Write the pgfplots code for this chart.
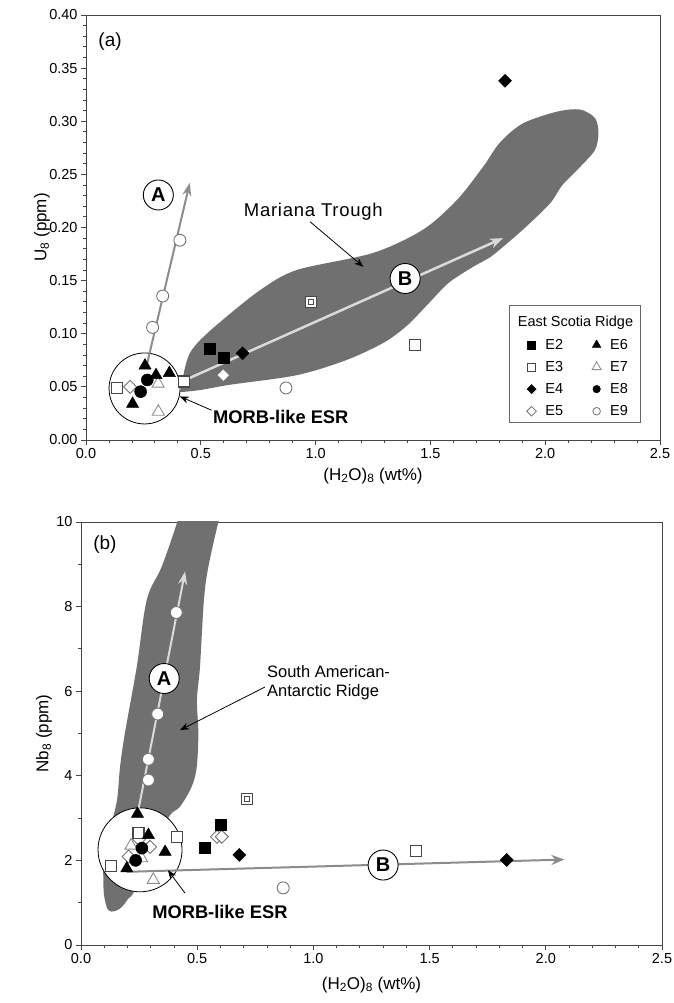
\documentclass[border=0pt]{standalone}
\usepackage{fontspec}
\setmainfont{Liberation Sans}
\usepackage{pgfplots}
\pgfplotsset{compat=1.18}
\usetikzlibrary{arrows.meta}
\definecolor{blob}{RGB}{112,112,112}
\definecolor{axc}{RGB}{70,70,70}
\definecolor{lightln}{RGB}{218,218,218}
\definecolor{midln}{RGB}{140,140,140}
\newcommand{\fs}[1]{\fontsize{#1}{1.2\dimexpr#1\relax}\selectfont}

\tikzset{
  lbl/.style={circle, draw=black, fill=white, line width=0.9bp, minimum size=30bp, inner sep=0pt, font=\bfseries\fs{20bp}},
  ann/.style={-{Stealth[length=9bp,width=7bp]}, line width=0.8bp, black},
}
\pgfplotsset{
  myax/.style={
    scale only axis, anchor=south west,
    axis line style={draw=axc, line width=0.9bp},
    every tick/.style={draw=axc, line width=0.8bp},
    tick align=outside, tick pos=left,
    major tick length=5bp, minor tick length=3bp,
    ticklabel style={font=\fs{14.5bp}},
    /pgf/number format/assume math mode=true,
    xmin=0, xmax=2.5, xtick={0,0.5,1,1.5,2,2.5}, minor x tick num=4,
    xticklabel style={/pgf/number format/.cd, fixed, fixed zerofill, precision=1},
    label style={font=\fs{17bp}},
    xlabel={(H\textsubscript{2}O)\textsubscript{8} (wt\%)},
    legend image code/.code={\draw[#1] plot coordinates {(5bp,0bp)};},
  },
  E2/.style={mark=square*, mark options={draw=black, fill=black, line width=0.5bp}, mark size=5.5bp},
  E3/.style={mark=square*, mark options={draw=black!72, fill=white, line width=1.2bp}, mark size=5.5bp},
  E4/.style={mark=square*, mark options={draw=black, fill=black, rotate=45, line width=0.5bp}, mark size=4.6bp},
  E5/.style={mark=square*, mark options={draw=black!55, fill=white, rotate=45, line width=0.9bp}, mark size=4.6bp},
  E6/.style={mark=triangle*, mark options={draw=black, fill=black, line width=0.5bp}, mark size=7bp},
  E7/.style={mark=triangle*, mark options={draw=black!45, fill=white, line width=0.9bp}, mark size=7bp},
  E8/.style={mark=*, mark options={draw=black, fill=black, line width=0.5bp}, mark size=6bp},
  E9/.style={mark=*, mark options={draw=black!55, fill=white, line width=0.9bp}, mark size=6bp},
}

\begin{document}
\begin{tikzpicture}
\path[use as bounding box] (0,0) rectangle (674bp,1003bp);

% ---------------- (a) ----------------
\begin{axis}[myax, at={(86bp,563bp)}, width=574bp, height=425bp,
  ymin=0, ymax=0.4, ytick={0,0.05,0.1,0.15,0.2,0.25,0.3,0.35,0.4}, minor y tick num=4,
  yticklabel style={/pgf/number format/.cd, fixed, fixed zerofill, precision=2},
  ylabel={U\textsubscript{8} (ppm)},
  xlabel style={at={(axis description cs:0.5,0)}, anchor=center, yshift=-36bp},
  ylabel style={at={(axis description cs:-0.0767,0.5)}, anchor=center},
  legend columns=2,
  legend style={at={(axis cs:1.919,0.097)}, anchor=north west, draw=none, fill=none,
    inner sep=0pt, font=\fs{14.5bp}, row sep=6.5bp,
    /tikz/every odd column/.append style={column sep=7bp},
    /tikz/every even column/.append style={column sep=27bp}},
  legend cell align=left,
]
% Mariana Trough field
\addplot[fill=blob, draw=none, smooth, tension=0.5, forget plot] coordinates {
 (0.41,0.045) (0.431,0.068) (0.453,0.082) (0.497,0.094) (0.584,0.111) (0.758,0.141)
 (0.918,0.160) (1.25,0.176) (1.468,0.198) (1.616,0.226) (1.729,0.257) (1.803,0.280)
 (1.903,0.298) (2.051,0.309) (2.152,0.311) (2.217,0.303) (2.232,0.289) (2.217,0.273)
 (2.152,0.257) (2.075,0.240) (2.03,0.225) (1.977,0.213) (1.903,0.198) (1.834,0.185)
 (1.76,0.172) (1.686,0.163) (1.58,0.148) (1.49,0.128) (1.40,0.108) (1.30,0.092)
 (1.135,0.0753) (0.918,0.061) (0.627,0.052) (0.497,0.047) (0.41,0.045)};
% MORB-like circle
\draw[fill=white, line width=0.8bp] (axis cs:0.255,0.0485) circle[radius=35.5bp];
% trend arrows
\draw[midln, line width=2bp, -{Stealth[length=13bp,width=9bp]}] (axis cs:0.262,0.068) -- (axis cs:0.452,0.242);
\draw[lightln, line width=2.5bp, -{Stealth[length=13bp,width=10bp]}] (axis cs:0.427,0.056) -- (axis cs:1.816,0.190);
% data
\addplot[only marks, E9, forget plot] coordinates {(0.29,0.106) (0.334,0.1355) (0.409,0.188) (0.871,0.049)};
\addplot[only marks, E7, forget plot] coordinates {(0.315,0.0266) (0.314,0.053)};
\addplot[only marks, E5, forget plot] coordinates {(0.192,0.050) (0.598,0.061)};
\addplot[only marks, E3, forget plot] coordinates {(0.134,0.0487) (0.427,0.055) (1.434,0.0894) (0.979,0.130)};
\addplot[only marks, mark=square, mark options={draw=black!72, line width=0.9bp}, mark size=2.5bp, forget plot] coordinates {(0.979,0.130)};
\addplot[only marks, E2, forget plot] coordinates {(0.537,0.0863) (0.598,0.0778)};
\addplot[only marks, E4, forget plot] coordinates {(0.682,0.0816) (1.825,0.338)};
\addplot[only marks, E6, forget plot] coordinates {(0.257,0.070) (0.305,0.061) (0.363,0.063) (0.203,0.034)};
\addplot[only marks, E8, forget plot] coordinates {(0.267,0.0565) (0.238,0.0455)};
% labels
\node[lbl] at (axis cs:0.315,0.2306) {A};
\node[lbl] at (axis cs:1.39,0.152) {B};
\node[font=\fs{19bp}] at (axis cs:0.105,0.375) {(a)};
\node[font=\fs{18.5bp}\addfontfeature{LetterSpace=4}] at (axis cs:0.99,0.215) {Mariana Trough};
\draw[ann] (axis cs:0.976,0.2054) -- (axis cs:1.208,0.163);
\node[anchor=west, inner sep=0pt, font=\bfseries\fs{18.3bp}] at (axis cs:0.553,0.022) {MORB-like ESR};
\draw[ann] (axis cs:0.547,0.028) -- (axis cs:0.409,0.041);
% legend
\draw[black!60, line width=0.8bp] (axis cs:1.845,0.017) rectangle (axis cs:2.413,0.1266);
\node[font=\fs{14.5bp}] at (axis cs:2.132,0.1106) {East Scotia Ridge};
\addlegendimage{only marks, mark=square*, mark size=4bp, mark options={draw=black, fill=black}}\addlegendentry{E2}
\addlegendimage{only marks, mark=triangle*, mark size=5bp, mark options={draw=black, fill=black}}\addlegendentry{E6}
\addlegendimage{only marks, mark=square*, mark size=4bp, mark options={draw=black!72, fill=white, line width=0.9bp}}\addlegendentry{E3}
\addlegendimage{only marks, mark=triangle*, mark size=5.2bp, mark options={draw=black!45, fill=white, line width=0.8bp}}\addlegendentry{E7}
\addlegendimage{only marks, mark=square*, mark size=3.3bp, mark options={draw=black, fill=black, rotate=45}}\addlegendentry{E4}
\addlegendimage{only marks, mark=*, mark size=3.8bp, mark options={draw=black, fill=black}}\addlegendentry{E8}
\addlegendimage{only marks, mark=square*, mark size=3.4bp, mark options={draw=black!55, fill=white, rotate=45, line width=0.8bp}}\addlegendentry{E5}
\addlegendimage{only marks, mark=*, mark size=3.8bp, mark options={draw=black!55, fill=white, line width=0.8bp}}\addlegendentry{E9}
\end{axis}

% ---------------- (b) ----------------
\begin{axis}[myax, at={(81bp,58bp)}, width=581bp, height=423bp,
  ymin=0, ymax=10, ytick={0,2,4,6,8,10}, minor y tick num=1,
  ylabel={Nb\textsubscript{8} (ppm)},
  xlabel style={at={(axis description cs:0.5,0)}, anchor=center, yshift=-40bp},
  ylabel style={at={(axis description cs:-0.0637,0.5)}, anchor=center},
]
% South American-Antarctic Ridge field
\addplot[fill=blob, draw=none, smooth, tension=0.55, forget plot] coordinates {
 (0.44,10.6) (0.414,10.0) (0.347,8.94) (0.283,8.16) (0.240,6.58) (0.189,5.01) (0.168,4.21)
 (0.155,3.43) (0.125,2.72) (0.097,2.0) (0.096,1.61) (0.099,1.18) (0.116,0.83) (0.146,0.80)
 (0.176,0.90) (0.204,1.10) (0.232,1.30) (0.33,2.5) (0.383,3.07) (0.426,3.27) (0.476,3.74)
 (0.498,4.21) (0.505,5.01) (0.499,5.79) (0.512,6.58) (0.529,8.16) (0.548,8.94) (0.591,10.0)
 (0.62,10.6)};
\draw[fill=white, line width=0.8bp] (axis cs:0.254,2.25) circle[radius=42bp];
\draw[lightln, line width=2bp, -{Stealth[length=13bp,width=9bp]}] (axis cs:0.24,3.0) -- (axis cs:0.448,8.83);
\draw[midln, line width=2bp, -{Stealth[length=13bp,width=10bp]}] (axis cs:0.197,1.73) -- (axis cs:2.08,2.02);
\addplot[only marks, E9, forget plot] coordinates {(0.41,7.86) (0.33,5.46) (0.29,4.39) (0.29,3.90) (0.87,1.35)};
\addplot[only marks, E7, forget plot] coordinates {(0.311,1.54) (0.261,2.05) (0.215,2.35)};
\addplot[only marks, E5, forget plot] coordinates {(0.205,2.09) (0.297,2.32) (0.25,2.5) (0.585,2.56) (0.606,2.56)};
\addplot[only marks, E3, forget plot] coordinates {(0.129,1.875) (0.247,2.64) (0.412,2.56) (1.441,2.23) (0.716,3.45)};
\addplot[only marks, mark=square, mark options={draw=black!72, line width=0.9bp}, mark size=2.5bp, forget plot] coordinates {(0.716,3.45)};
\addplot[only marks, E2, forget plot] coordinates {(0.602,2.85) (0.534,2.29)};
\addplot[only marks, E4, forget plot] coordinates {(0.681,2.13) (1.832,2.01)};
\addplot[only marks, E6, forget plot] coordinates {(0.243,3.10) (0.29,2.6) (0.362,2.2) (0.197,1.81)};
\addplot[only marks, E8, forget plot] coordinates {(0.262,2.29) (0.235,2.0)};
\node[lbl] at (axis cs:0.358,6.3) {A};
\node[lbl] at (axis cs:1.30,1.89) {B};
\node[font=\fs{19bp}] at (axis cs:0.103,9.46) {(b)};
\node[anchor=north west, align=left, inner sep=0pt, font=\fs{16.5bp}] at (axis cs:0.80,6.62) {South American-\\Antarctic Ridge};
\draw[ann] (axis cs:0.792,6.1) -- (axis cs:0.426,5.08);
\node[anchor=west, inner sep=0pt, font=\bfseries\fs{18.3bp}] at (axis cs:0.306,0.78) {MORB-like ESR};
\draw[ann] (axis cs:0.447,1.23) -- (axis cs:0.374,1.77);
\end{axis}
\end{tikzpicture}
\end{document}
